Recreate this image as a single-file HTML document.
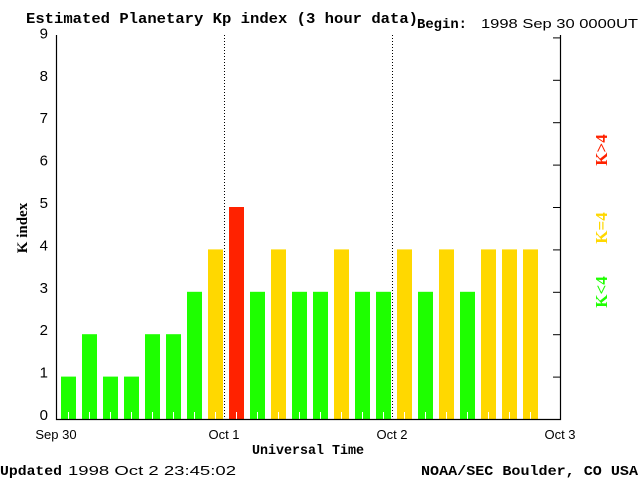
<!DOCTYPE html>
<html><head><meta charset="utf-8"><style>
body{margin:0;background:#fff;}
svg{display:block;font-family:"Liberation Mono",monospace;}
</style></head><body>
<svg id="chart" width="640" height="480" viewBox="0 0 640 480">
<rect x="0" y="0" width="640" height="480" fill="#fff"/>
<text x="26" y="23" font-family="Liberation Mono, monospace" font-size="15" font-weight="bold" textLength="392" lengthAdjust="spacingAndGlyphs">Estimated Planetary Kp index (3 hour data)</text>
<text x="417" y="28" font-family="Liberation Mono, monospace" font-size="14" font-weight="bold" textLength="50" lengthAdjust="spacingAndGlyphs">Begin:</text>
<text x="481" y="28" font-family="Liberation Sans, sans-serif" font-size="13" textLength="157" lengthAdjust="spacingAndGlyphs">1998 Sep 30 0000UT</text>
<g id="bars"></g>
<g id="axes"></g>
<text x="27" y="228" font-family="Liberation Serif, serif" font-size="15" font-weight="bold" transform="rotate(-90 27 228)" text-anchor="middle">K index</text>
<text x="308" y="454" font-family="Liberation Mono, monospace" font-size="14" font-weight="bold" text-anchor="middle" textLength="112" lengthAdjust="spacingAndGlyphs">Universal Time</text>
<text x="0" y="475" font-family="Liberation Mono, monospace" font-size="14" font-weight="bold" textLength="62" lengthAdjust="spacingAndGlyphs">Updated</text>
<text x="68" y="475" font-family="Liberation Sans, sans-serif" font-size="13" textLength="168" lengthAdjust="spacingAndGlyphs">1998 Oct  2 23:45:02</text>
<text x="421" y="475" font-family="Liberation Mono, monospace" font-size="14" font-weight="bold" textLength="217" lengthAdjust="spacingAndGlyphs">NOAA/SEC Boulder, CO USA</text>
<text x="607" y="150" font-family="Liberation Serif, serif" font-size="17" font-weight="bold" fill="#ff2200" transform="rotate(-90 607 150)" text-anchor="middle">K&gt;4</text>
<text x="607" y="228" font-family="Liberation Serif, serif" font-size="17" font-weight="bold" fill="#ffd800" transform="rotate(-90 607 228)" text-anchor="middle">K=4</text>
<text x="607" y="292" font-family="Liberation Serif, serif" font-size="17" font-weight="bold" fill="#1eff00" transform="rotate(-90 607 292)" text-anchor="middle">K&lt;4</text>
</svg>
<script>
const kpValues=[1,2,1,1,2,2,3,4,5,3,4,3,3,4,3,3,4,3,4,3,4,4,4];
const yTicks=[0,1,2,3,4,5,6,7,8,9];
const dayLabels=["Sep 30","Oct 1","Oct 2","Oct 3"];
const NS="http://www.w3.org/2000/svg";
const L=56,R=560,B=419,T=35,unit=42.4,slot=21;
const yS=v=>B-v*unit;
const xS=i=>L+i*slot;
const xDay=d=>L+d*168;
function mk(tag,attrs,parent){const e=document.createElementNS(NS,tag);for(const k in attrs)e.setAttribute(k,attrs[k]);parent.appendChild(e);return e;}
const bars=document.getElementById('bars'),axes=document.getElementById('axes');
kpValues.forEach((v,i)=>{
  const col=v>4?"#ff2200":(v===4?"#ffd800":"#1eff00");
  const r=mk('rect',{x:xS(i)+5,y:yS(v),width:15,height:B-yS(v),fill:col},bars);
  
  
  const t=mk('line',{x1:xS(i)+12.5,x2:xS(i)+12.5,y1:B-7,y2:B,stroke:"#fff","stroke-width":1},bars);
  
  
});
[1,2].forEach(d=>{
  const l=mk('line',{x1:xDay(d)+0.5,x2:xDay(d)+0.5,y1:T,y2:B,stroke:"#000","stroke-dasharray":"1,2"},axes);
  
  
});
const frame=mk('path',{d:`M${L+0.5},${T} V${B+0.5} H${R+0.5} V${T}`,fill:"none",stroke:"#000","stroke-width":1.2},axes);


yTicks.forEach(v=>{
  const y=yS(v);
  const t=mk('text',{x:48,y:y+1,"text-anchor":"end","font-family":"Liberation Sans, sans-serif","font-size":15},axes);
  t.textContent=v;
  
  
  const tk=mk('line',{x1:R-7,x2:R,y1:y+0.5,y2:y+0.5,stroke:"#000"},axes);
  
  
});
dayLabels.forEach((s,d)=>{
  const t=mk('text',{x:xDay(d),y:439,"text-anchor":"middle","font-family":"Liberation Sans, sans-serif","font-size":13},axes);
  t.textContent=s;
  
  
});
</script>
</body></html>
